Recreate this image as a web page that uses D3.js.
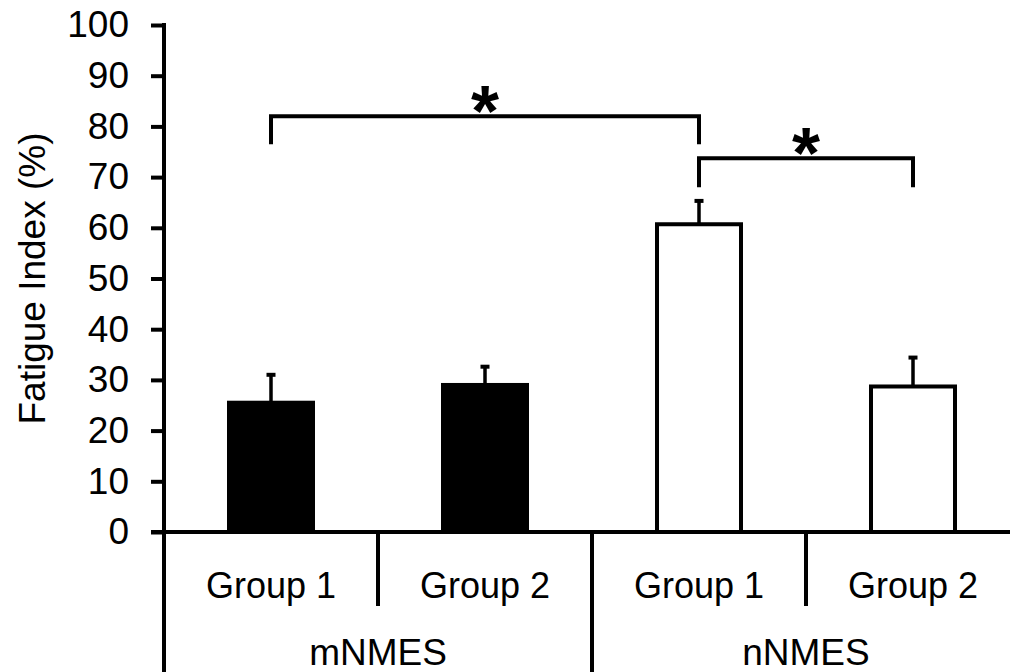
<!DOCTYPE html>
<html>
<head>
<meta charset="utf-8">
<script src="https://cdn.jsdelivr.net/npm/d3@7/dist/d3.min.js"></script>
<style>
  html, body { margin: 0; padding: 0; background: #fff; }
  svg { display: block; }
  text { font-family: "Liberation Sans", Arial, sans-serif; fill: #000; }
</style>
</head>
<body>
<svg id="chart" width="1010" height="672"></svg>
<script>
// Fatigue index per stimulation mode and group
const groups = ["Group 1", "Group 2", "Group 1", "Group 2"];
const modes = ["mNMES", "nNMES"];
const means = [25.5, 29.0, 60.7, 28.7];
const errors = [5.8, 3.9, 4.9, 6.0];
const filled = [true, true, false, false];
const yTicks = [0, 10, 20, 30, 40, 50, 60, 70, 80, 90, 100];
// significance brackets: [from bar, to bar, level (value), label]
const brackets = [
  { from: 0, to: 2, level: 82.0, drop: 5.5, label: "*" },
  { from: 2, to: 3, level: 73.7, drop: 5.7, label: "*" }
];

const svg = d3.select("#chart");
const x0 = 164, x1 = 1020, yTop = 25, yBase = 532, H = 672;

const x = d3.scaleBand().domain(d3.range(groups.length)).range([x0, x1]).paddingInner(0).paddingOuter(0);
const y = d3.scaleLinear().domain([0, 100]).range([yBase, yTop]);
const modeX = d3.scaleBand().domain(modes).range([x0, x1]);

const barW = 84;
const sw = 4;

// bars
svg.append("g").selectAll("rect").data(means).join("rect")
  .attr("x", (d, i) => x(i) + x.bandwidth() / 2 - barW / 2)
  .attr("y", d => y(d))
  .attr("width", barW)
  .attr("height", d => y(0) - y(d))
  .attr("fill", (d, i) => filled[i] ? "#000" : "#fff")
  .attr("stroke", "#000")
  .attr("stroke-width", sw);

// upper error bars
const eb = svg.append("g");
means.forEach((m, i) => {
  const cx = x(i) + x.bandwidth() / 2;
  eb.append("line").attr("x1", cx).attr("x2", cx)
    .attr("y1", y(m)).attr("y2", y(m + errors[i]))
    .attr("stroke", "#000").attr("stroke-width", 3.5);
  eb.append("line").attr("x1", cx - 4.5).attr("x2", cx + 4.5)
    .attr("y1", y(m + errors[i]) + 1.5).attr("y2", y(m + errors[i]) + 1.5)
    .attr("stroke", "#000").attr("stroke-width", 4);
});

// y axis
const yAxis = d3.axisLeft(y).tickValues(yTicks).tickSize(13).tickSizeOuter(0).tickPadding(22);
const gy = svg.append("g").attr("transform", `translate(${x0},0)`).call(yAxis);
gy.select(".domain").remove();
gy.selectAll(".tick line").attr("stroke", "#000").attr("stroke-width", sw);
gy.selectAll(".tick text").attr("font-size", 37).attr("font-family", "Liberation Sans, Arial, sans-serif").attr("fill", "#000");

// axis lines
svg.append("line").attr("x1", x0).attr("x2", x0).attr("y1", yTop - 2).attr("y2", H)
  .attr("stroke", "#000").attr("stroke-width", sw);
svg.append("line").attr("x1", x0 - 13).attr("x2", 1010).attr("y1", yBase).attr("y2", yBase)
  .attr("stroke", "#000").attr("stroke-width", sw);

// category dividers below the axis
const inner = modes.map((m, k) => x(2 * k + 1));
const outer = modes.map(m => modeX(m) + modeX.bandwidth());
svg.append("g").selectAll("line").data(inner).join("line")
  .attr("x1", d => d).attr("x2", d => d).attr("y1", yBase).attr("y2", 606)
  .attr("stroke", "#000").attr("stroke-width", sw);
svg.append("g").selectAll("line").data(outer).join("line")
  .attr("x1", d => d).attr("x2", d => d).attr("y1", yBase).attr("y2", H)
  .attr("stroke", "#000").attr("stroke-width", sw);

// group labels
svg.append("g").selectAll("text").data(groups).join("text")
  .attr("x", (d, i) => x(i) + x.bandwidth() / 2)
  .attr("y", 598)
  .attr("text-anchor", "middle")
  .attr("font-size", 36)
  .text(d => d);

// mode labels
svg.append("g").selectAll("text").data(modes).join("text")
  .attr("x", d => modeX(d) + modeX.bandwidth() / 2)
  .attr("y", 665)
  .attr("text-anchor", "middle")
  .attr("font-size", 37)
  .text(d => d);

// y-axis title
svg.append("text")
  .attr("transform", `translate(45,${(yTop + yBase) / 2}) rotate(-90)`)
  .attr("text-anchor", "middle")
  .attr("font-size", 37)
  .text("Fatigue Index (%)");

// significance brackets
const bg = svg.append("g");
brackets.forEach(b => {
  const xa = x(b.from) + x.bandwidth() / 2;
  const xb = x(b.to) + x.bandwidth() / 2;
  const yl = y(b.level), yd = y(b.level - b.drop);
  bg.append("path")
    .attr("d", `M${xa},${yd}V${yl}H${xb}V${yd}`)
    .attr("fill", "none").attr("stroke", "#000").attr("stroke-width", sw);
  bg.append("text")
    .attr("x", (xa + xb) / 2)
    .attr("y", yl + 20)
    .attr("text-anchor", "middle")
    .attr("font-size", 72)
    .attr("font-weight", "bold")
    .text(b.label);
});
</script>
</body>
</html>
